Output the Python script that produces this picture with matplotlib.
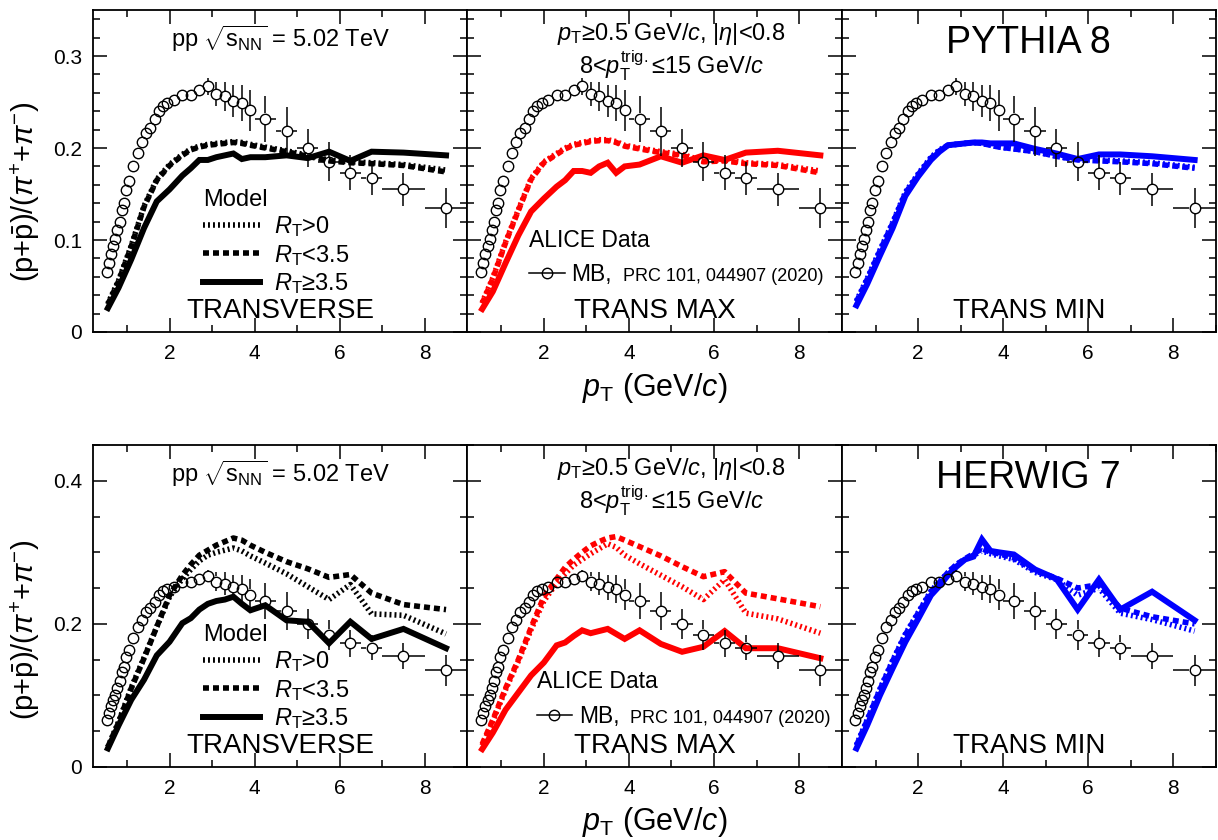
"""p/pi ratio in the transverse regions: ALICE MB data vs PYTHIA 8 / HERWIG 7."""

import matplotlib

matplotlib.use("Agg")
import matplotlib.pyplot as plt
from matplotlib.lines import Line2D
from matplotlib.ticker import FuncFormatter, MultipleLocator

plt.rcParams["font.family"] = ["Liberation Sans", "DejaVu Sans"]
plt.rcParams["mathtext.fontset"] = "custom"
plt.rcParams["mathtext.rm"] = "Liberation Sans"
plt.rcParams["mathtext.it"] = "Liberation Sans:italic"
plt.rcParams["mathtext.bf"] = "Liberation Sans:bold"
plt.rcParams["lines.scale_dashes"] = False

# ALICE MB, PRC 101, 044907 (2020)
data_pt = [0.525, 0.575, 0.625, 0.675, 0.725, 0.775, 0.825, 0.875, 0.925, 0.975,
           1.05, 1.15, 1.25, 1.35, 1.45, 1.55, 1.65, 1.75, 1.85, 1.95,
           2.1, 2.3, 2.5, 2.7, 2.9, 3.1, 3.3, 3.5, 3.7, 3.9,
           4.25, 4.75, 5.25, 5.75, 6.25, 6.75, 7.5, 8.5]
data_pt_err = [0.025] * 10 + [0.05] * 10 + [0.1] * 10 + [0.25] * 6 + [0.5] * 2
data_ratio = [0.065, 0.075, 0.085, 0.094, 0.101, 0.111, 0.120, 0.133, 0.140, 0.154,
              0.164, 0.180, 0.195, 0.206, 0.216, 0.222, 0.231, 0.240, 0.246, 0.249,
              0.252, 0.258, 0.258, 0.263, 0.267, 0.259, 0.256, 0.251, 0.249, 0.241,
              0.232, 0.218, 0.200, 0.185, 0.173, 0.167, 0.155, 0.135]
data_ratio_err = [0.003, 0.003, 0.003, 0.003, 0.003, 0.003, 0.003, 0.003, 0.003, 0.003,
                  0.003, 0.003, 0.003, 0.003, 0.004, 0.004, 0.004, 0.004, 0.004, 0.004,
                  0.005, 0.005, 0.005, 0.006, 0.009, 0.013, 0.016, 0.017, 0.020, 0.022,
                  0.025, 0.027, 0.021, 0.021, 0.019, 0.018, 0.018, 0.022]

# model pT grid
model_pt = [0.55, 0.8, 1.1, 1.4, 1.7, 2.0, 2.3, 2.5, 2.7, 2.9, 3.1, 3.3, 3.5, 3.7, 3.9,
            4.25, 4.75, 5.25, 5.75, 6.25, 6.75, 7.5, 8.5]

# PYTHIA 8
py_trans_all = [0.031, 0.056, 0.094, 0.137, 0.166, 0.182, 0.193, 0.199, 0.202, 0.204, 0.205, 0.206,
                0.207, 0.206, 0.204, 0.201, 0.197, 0.192, 0.187, 0.185, 0.184, 0.182, 0.176]
py_trans_low = [0.030, 0.055, 0.093, 0.136, 0.165, 0.181, 0.192, 0.198, 0.201, 0.203, 0.204, 0.205,
                0.206, 0.205, 0.203, 0.200, 0.196, 0.191, 0.186, 0.184, 0.183, 0.181, 0.174]
py_trans_high = [0.026, 0.048, 0.079, 0.113, 0.142, 0.155, 0.170, 0.178, 0.187, 0.187, 0.190, 0.192,
                 0.194, 0.188, 0.190, 0.190, 0.192, 0.189, 0.196, 0.186, 0.196, 0.195, 0.192]
py_max_all = [0.032, 0.059, 0.098, 0.133, 0.167, 0.185, 0.194, 0.200, 0.204, 0.206, 0.208, 0.209,
              0.209, 0.207, 0.203, 0.200, 0.196, 0.193, 0.186, 0.187, 0.184, 0.182, 0.175]
py_max_low = [0.031, 0.058, 0.097, 0.132, 0.166, 0.184, 0.193, 0.199, 0.203, 0.205, 0.207, 0.208,
              0.208, 0.206, 0.202, 0.199, 0.195, 0.192, 0.185, 0.186, 0.183, 0.181, 0.173]
py_max_high = [0.025, 0.044, 0.075, 0.105, 0.131, 0.145, 0.158, 0.165, 0.175, 0.175, 0.173, 0.180,
               0.184, 0.173, 0.180, 0.182, 0.191, 0.184, 0.192, 0.187, 0.195, 0.197, 0.192]
py_min_all = [0.034, 0.058, 0.089, 0.119, 0.152, 0.172, 0.190, 0.198, 0.203, 0.204, 0.205, 0.206,
              0.205, 0.203, 0.201, 0.199, 0.196, 0.191, 0.187, 0.187, 0.186, 0.184, 0.179]
py_min_low = [0.033, 0.057, 0.088, 0.118, 0.151, 0.171, 0.189, 0.197, 0.203, 0.204, 0.205, 0.206,
              0.205, 0.203, 0.201, 0.199, 0.196, 0.191, 0.187, 0.186, 0.185, 0.183, 0.178]
py_min_high = [0.029, 0.052, 0.083, 0.113, 0.148, 0.169, 0.187, 0.196, 0.203, 0.204, 0.205, 0.206,
               0.206, 0.205, 0.205, 0.205, 0.199, 0.194, 0.188, 0.193, 0.193, 0.191, 0.187]

# HERWIG 7
hw_trans_all = [0.028, 0.063, 0.111, 0.153, 0.196, 0.238, 0.263, 0.276, 0.288, 0.296, 0.300, 0.303,
                0.306, 0.302, 0.295, 0.285, 0.270, 0.252, 0.234, 0.255, 0.214, 0.212, 0.186]
hw_trans_low = [0.028, 0.062, 0.110, 0.152, 0.196, 0.240, 0.268, 0.283, 0.296, 0.303, 0.310, 0.315,
                0.320, 0.317, 0.310, 0.300, 0.287, 0.277, 0.265, 0.269, 0.243, 0.227, 0.220]
hw_trans_high = [0.026, 0.058, 0.094, 0.122, 0.156, 0.175, 0.201, 0.208, 0.220, 0.228, 0.232, 0.234,
                 0.238, 0.228, 0.219, 0.226, 0.205, 0.203, 0.173, 0.203, 0.179, 0.193, 0.166]
hw_max_all = [0.030, 0.064, 0.108, 0.148, 0.192, 0.232, 0.257, 0.270, 0.282, 0.290, 0.298, 0.305,
              0.312, 0.307, 0.296, 0.284, 0.268, 0.252, 0.234, 0.262, 0.215, 0.207, 0.187]
hw_max_low = [0.032, 0.066, 0.110, 0.150, 0.195, 0.238, 0.263, 0.279, 0.290, 0.300, 0.309, 0.315,
              0.320, 0.322, 0.317, 0.308, 0.295, 0.280, 0.266, 0.273, 0.243, 0.235, 0.224]
hw_max_high = [0.025, 0.048, 0.080, 0.104, 0.128, 0.146, 0.170, 0.174, 0.183, 0.191, 0.187, 0.190,
               0.193, 0.186, 0.179, 0.191, 0.172, 0.161, 0.168, 0.190, 0.166, 0.166, 0.152]
hw_min_all = [0.031, 0.066, 0.109, 0.149, 0.186, 0.216, 0.246, 0.259, 0.272, 0.283, 0.290, 0.296,
              0.302, 0.298, 0.295, 0.290, 0.272, 0.262, 0.240, 0.250, 0.215, 0.206, 0.190]
hw_min_low = [0.030, 0.065, 0.108, 0.148, 0.185, 0.215, 0.245, 0.258, 0.272, 0.283, 0.291, 0.298,
              0.305, 0.300, 0.298, 0.292, 0.274, 0.264, 0.250, 0.255, 0.222, 0.210, 0.200]
hw_min_high = [0.026, 0.058, 0.100, 0.138, 0.175, 0.207, 0.240, 0.253, 0.268, 0.280, 0.290, 0.294,
               0.318, 0.302, 0.300, 0.297, 0.276, 0.263, 0.220, 0.262, 0.220, 0.245, 0.205]

regions = ["TRANSVERSE", "TRANS MAX", "TRANS MIN"]
colors = ["black", "red", "blue"]
legend_labels = [r"$R_{\rm T}$>0", r"$R_{\rm T}$<3.5", r"$R_{\rm T}$≥3.5"]

rows = [
    {"name": "PYTHIA 8", "ymax": 0.35, "ymajor": 0.1, "yminor": 0.02,
     "curves": [(py_trans_all, py_trans_low, py_trans_high),
                (py_max_all, py_max_low, py_max_high),
                (py_min_all, py_min_low, py_min_high)]},
    {"name": "HERWIG 7", "ymax": 0.45, "ymajor": 0.2, "yminor": 0.05,
     "curves": [(hw_trans_all, hw_trans_low, hw_trans_high),
                (hw_max_all, hw_max_low, hw_max_high),
                (hw_min_all, hw_min_low, hw_min_high)]},
]

W, H = 1218, 840
AX_LEFT, AX_W, AX_H = 93, 374.3, 322
ROW_TOP = [10, 445]
MARKER = 7.5
DOT = (1.4, 2.2)
DASH = (4.3, 2.9)


def _fig_rect(x0, y0):
    return [x0 / W, 1 - (y0 + AX_H) / H, AX_W / W, AX_H / H]


def _draw_data(ax):
    ax.plot(data_pt, data_ratio, "o", ms=MARKER, mfc="none", mec="black", mew=1.0, zorder=5)
    # error bars stop at the marker edge (ROOT style)
    bbox = ax.get_window_extent()
    x0, x1 = ax.get_xlim()
    y0, y1 = ax.get_ylim()
    r_px = MARKER / 2 * ax.figure.dpi / 72
    gx = r_px * (x1 - x0) / bbox.width
    gy = r_px * (y1 - y0) / bbox.height
    for x, y, ex, ey in zip(data_pt, data_ratio, data_pt_err, data_ratio_err):
        if ey > gy:
            ax.vlines([x, x], [y - ey, y + gy], [y - gy, y + ey], color="black", lw=1.1, zorder=5)
        if ex > gx:
            ax.hlines([y, y], [x - ex, x + gx], [x - gx, x + ex], color="black", lw=1.1, zorder=5)


def _draw_models(ax, curves, color):
    all_, low, high = curves
    h1, = ax.plot(model_pt, all_, color=color, lw=4, dashes=DOT, zorder=2)
    h2, = ax.plot(model_pt, low, color=color, lw=4, dashes=DASH, zorder=3)
    h3, = ax.plot(model_pt, high, color=color, lw=4.3, solid_joinstyle="miter", zorder=4)
    return [h1, h2, h3]


def _ylabel_fmt(v, _pos):
    return "0" if abs(v) < 1e-9 else f"{v:.1f}"


def _style(ax, row, col):
    ax.set_xlim(0.2, 9.0)
    ax.set_ylim(0, row["ymax"])
    ax.xaxis.set_major_locator(MultipleLocator(2))
    ax.xaxis.set_minor_locator(MultipleLocator(1))
    ax.yaxis.set_major_locator(MultipleLocator(row["ymajor"]))
    ax.yaxis.set_minor_locator(MultipleLocator(row["yminor"]))
    ax.yaxis.set_major_formatter(FuncFormatter(_ylabel_fmt))
    ax.tick_params(which="both", direction="in", top=True, right=True, labelsize=15)
    ax.tick_params(which="major", length=10, width=1.1)
    ax.tick_params(which="minor", length=5, width=1.1)
    ax.tick_params(axis="x", pad=9)
    ax.tick_params(axis="y", pad=8)
    if col != 0:
        ax.tick_params(axis="y", labelleft=False)
    for sp in ax.spines.values():
        sp.set_linewidth(1.3)


fig = plt.figure(figsize=(W / 100, H / 100), dpi=100)

for r, row in enumerate(rows):
    for c in range(3):
        ax = fig.add_axes(_fig_rect(AX_LEFT + c * AX_W, ROW_TOP[r]))
        _style(ax, row, c)
        handles = _draw_models(ax, row["curves"][c], colors[c])
        _draw_data(ax)

        ax.text(0.5, 0.045, regions[c], transform=ax.transAxes, ha="center",
                va="baseline", fontsize=20)

        if c == 0:
            ax.text(0.5, 0.885, r"pp $\sqrt{\mathrm{s}_{\rm NN}}$ = 5.02 TeV",
                    transform=ax.transAxes, ha="center", va="baseline", fontsize=17)
            ax.legend(handles, legend_labels, title="Model", loc="upper left",
                      bbox_to_anchor=(0.295, 0.445), frameon=False, fontsize=17,
                      title_fontsize=17, alignment="left", handlelength=2.4,
                      handletextpad=0.6, labelspacing=0.15, borderpad=0,
                      borderaxespad=0)
        elif c == 1:
            ax.text(0.545, 0.908, r"$p_{\rm T}$≥0.5 GeV/$c$, |$\eta$|<0.8",
                    transform=ax.transAxes, ha="center", va="baseline", fontsize=17)
            ax.text(0.545, 0.800, r"8<$p_{\rm T}^{\rm trig.}$≤15 GeV/$c$",
                    transform=ax.transAxes, ha="center", va="baseline", fontsize=17)
            mb = Line2D([], [], color="black", lw=1.1, marker="o", ms=MARKER,
                        mfc="none", mec="black", mew=1.0)
            lx = 0.165 if r == 0 else 0.185
            ly = 0.32 if r == 0 else 0.30
            ax.legend([mb], ["MB,"], title="ALICE Data", loc="upper left",
                      bbox_to_anchor=(lx, ly), frameon=False, fontsize=16.5,
                      title_fontsize=16.5, alignment="left", handlelength=1.55,
                      handletextpad=0.3, borderpad=0, borderaxespad=0)
            prc_y = 0.158 if r == 0 else 0.138
            ax.text(lx + 0.25, prc_y, "PRC 101, 044907 (2020)", transform=ax.transAxes,
                    ha="left", va="baseline", fontsize=13)
        else:
            ax.text(0.5, 0.866, row["name"], transform=ax.transAxes, ha="center",
                    va="baseline", fontsize=27)

    ylab_y = [192, 630][r]
    fig.text(25 / W, 1 - ylab_y / H, r"(p+$\bar{\rm p}$)/($\pi^{+}$+$\pi^{-}$)",
             rotation=90, ha="center", va="center", fontsize=21)
    xlab_y = [396, 830][r]
    fig.text(655 / W, 1 - xlab_y / H, r"$p_{\rm T}$ (GeV/$c$)", ha="center",
             va="baseline", fontsize=22)

fig.savefig("out.png", dpi=100)
